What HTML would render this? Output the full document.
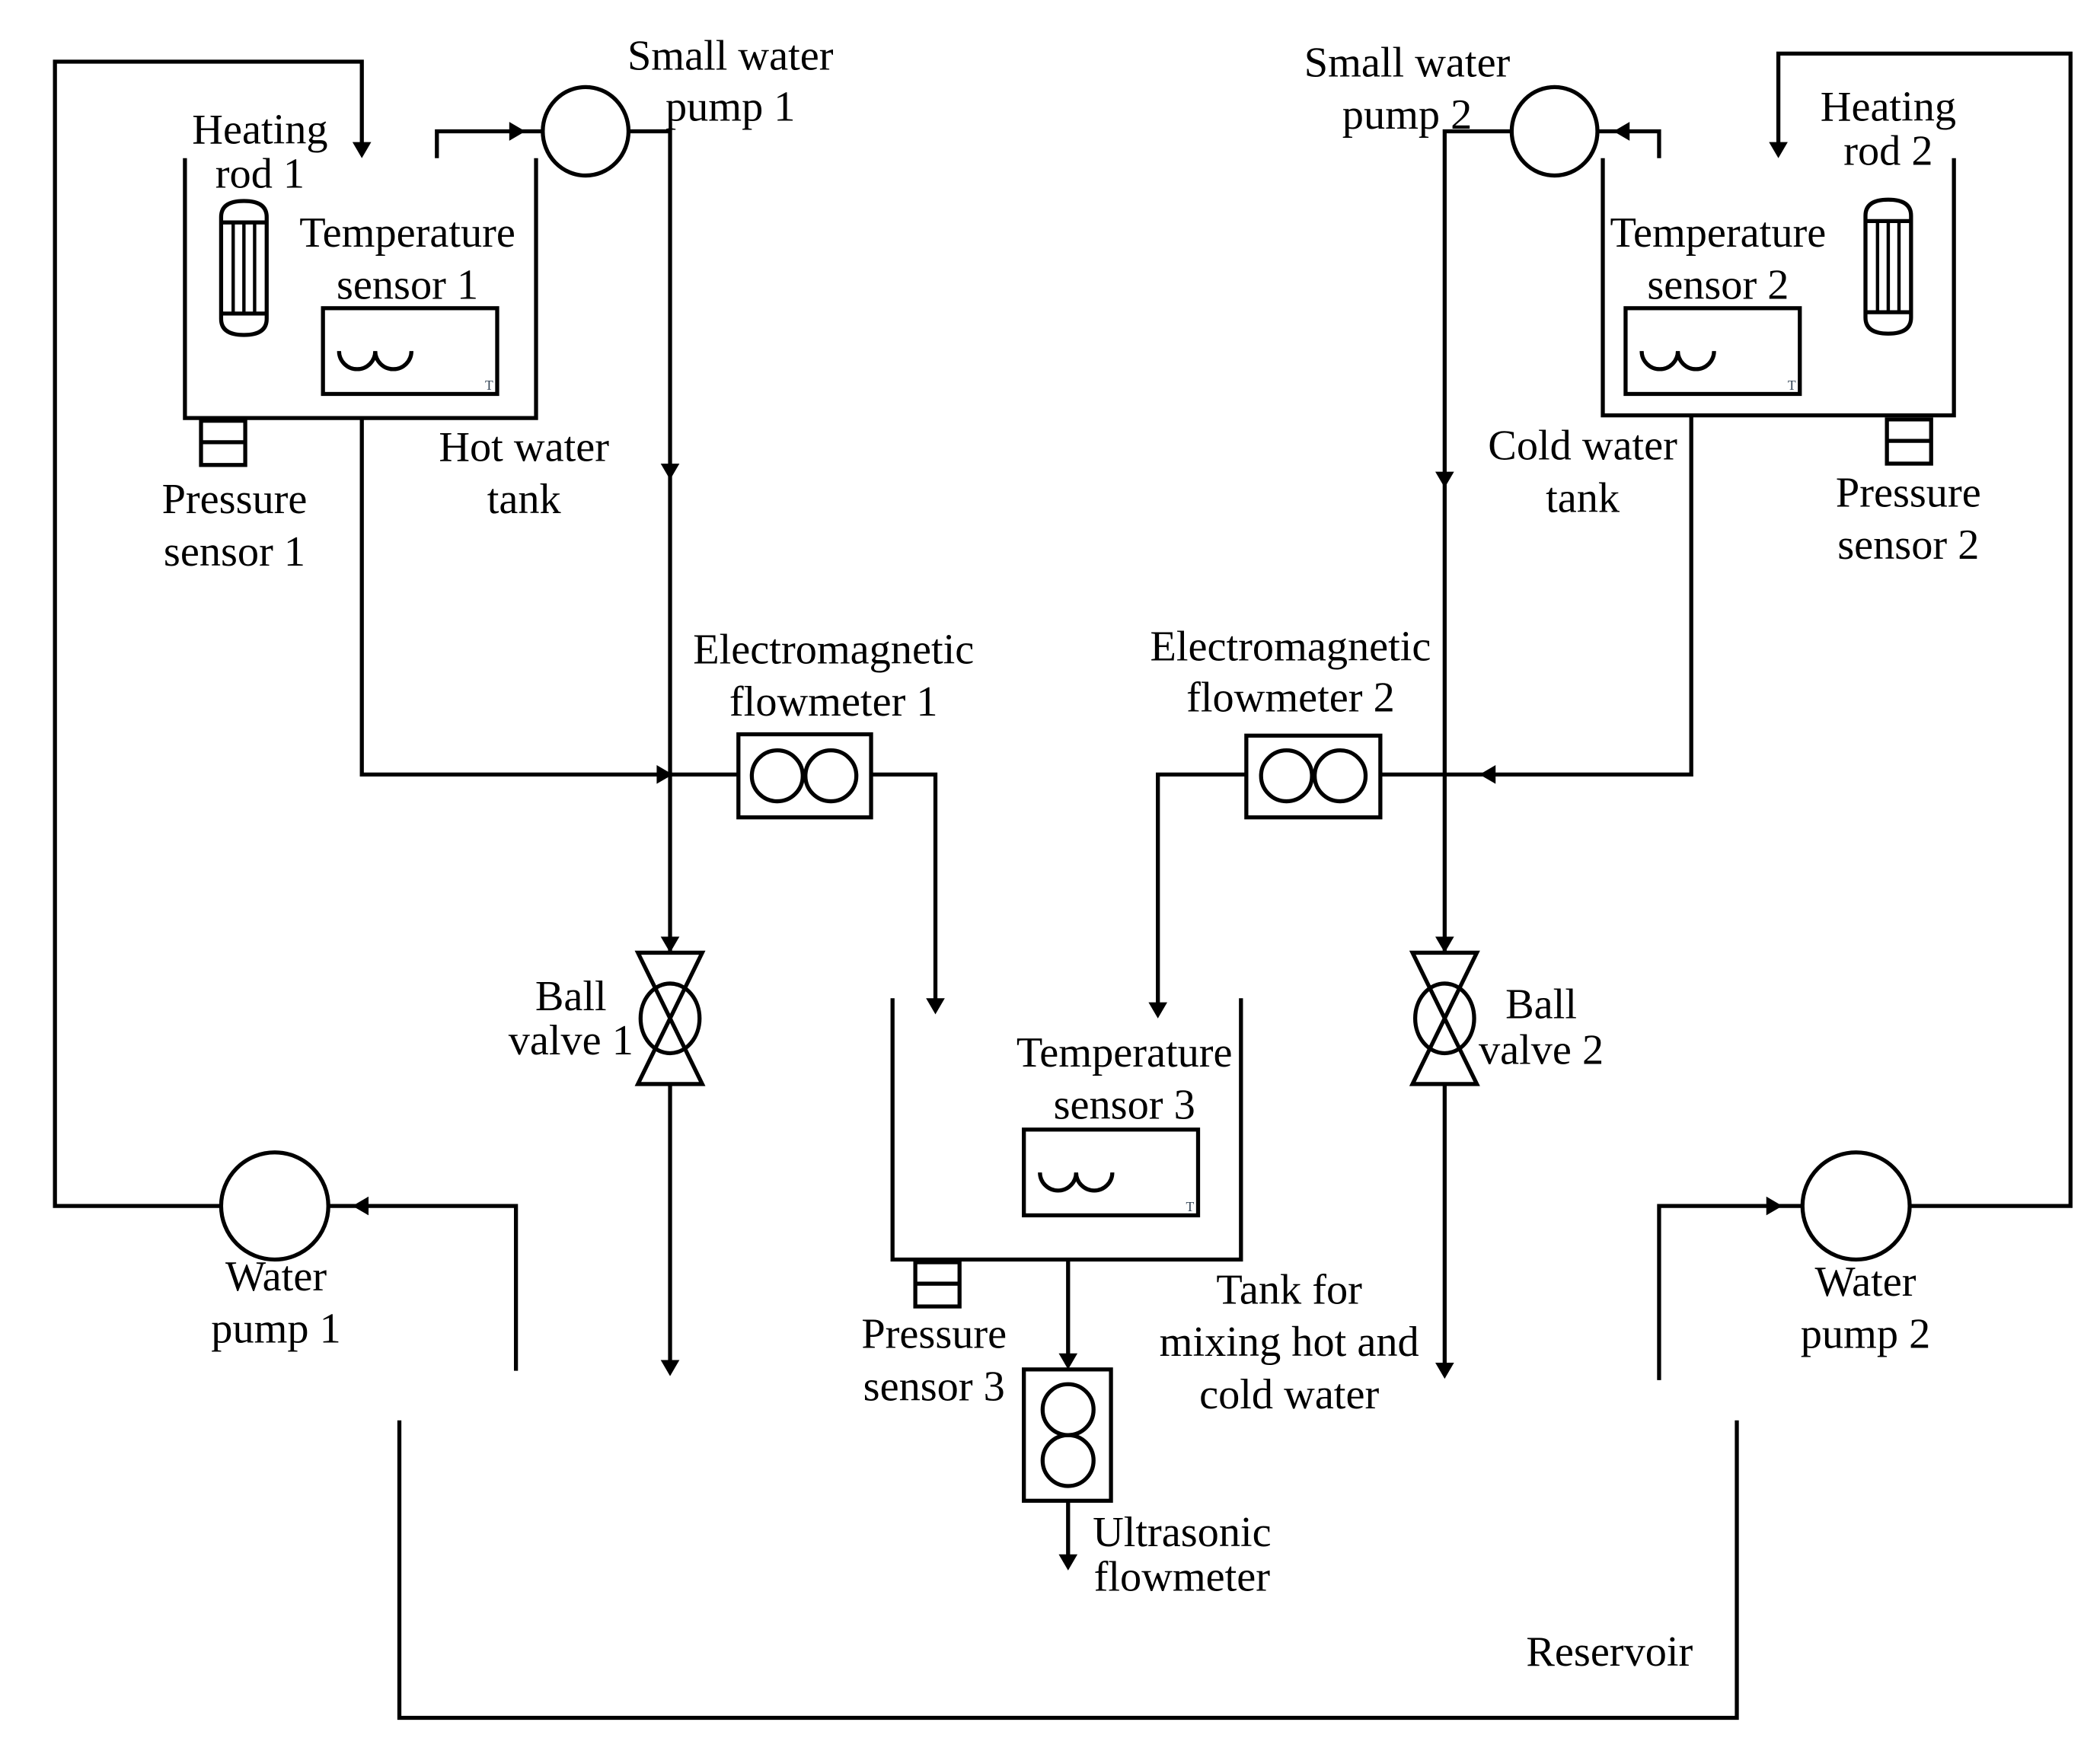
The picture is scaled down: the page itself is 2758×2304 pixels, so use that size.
<!DOCTYPE html>
<html><head><meta charset="utf-8"><style>
html,body{margin:0;padding:0;background:#fff;}
svg{display:block;}
text{font-family:"Liberation Serif",serif;font-size:32px;fill:#000;text-anchor:middle;}
</style></head><body>
<svg width="2758" height="2304" viewBox="0 0 1567 1309" preserveAspectRatio="none" xmlns="http://www.w3.org/2000/svg">
<defs>
<g id="rod"><path d="M0,12 Q0,0 17,0 Q34,0 34,12 L34,88 Q34,100 17,100 Q0,100 0,88 Z" fill="none" stroke="#000" stroke-width="3"/>
<line x1="0" y1="16" x2="34" y2="16" stroke="#000" stroke-width="3"/><line x1="0" y1="84" x2="34" y2="84" stroke="#000" stroke-width="3"/>
<line x1="9" y1="16" x2="9" y2="84" stroke="#000" stroke-width="2.5"/><line x1="17" y1="16" x2="17" y2="84" stroke="#000" stroke-width="2.5"/><line x1="25" y1="16" x2="25" y2="84" stroke="#000" stroke-width="2.5"/></g>
<g id="ts"><rect x="0" y="0" width="130" height="64" fill="none" stroke="#000" stroke-width="3"/>
<path d="M12,32 a13,13 0 0 0 27,0 a13,13 0 0 0 27,0" fill="none" stroke="#000" stroke-width="3"/>
<text x="124" y="61" style="font-size:10px;fill:#345">T</text></g>
<g id="ps"><rect x="0" y="0" width="33" height="33" fill="none" stroke="#000" stroke-width="3"/><line x1="0" y1="16" x2="33" y2="16" stroke="#000" stroke-width="3"/></g>
<g id="valve"><polygon points="-24,-49 24,-49 -24,49 24,49" fill="none" stroke="#000" stroke-width="3"/>
<ellipse cx="0" cy="0" rx="22" ry="26" fill="none" stroke="#000" stroke-width="3"/></g>
<polygon id="ad" points="-7,-12 7,-12 0,0"/>
<polygon id="ar" points="-12,-7 -12,7 0,0"/>
<polygon id="al" points="12,-7 12,7 0,0"/>
</defs>
<g fill="none" stroke="#000" stroke-width="3">
<polyline points="270,108 270,46 41,46 41,900 165,900"/>
<polyline points="245,900 385,900 385,1023"/>
<circle cx="205" cy="900" r="40"/>
<polyline points="138,118 138,312 400,312 400,118"/>
<polyline points="326,118 326,98 405,98"/>
<ellipse cx="437" cy="98" rx="32" ry="33"/>
<polyline points="469,98 500,98 500,711"/>
<line x1="500" y1="809" x2="500" y2="1018"/>
<polyline points="270,312 270,578 551,578"/>
<rect x="551" y="548" width="99" height="62"/>
<circle cx="580" cy="579" r="19"/><circle cx="620" cy="579" r="19"/>
<polyline points="650,578 698,578 698,750"/>
<polyline points="666,745 666,940 926,940 926,745"/>
<line x1="797" y1="940" x2="797" y2="1015"/>
<rect x="764" y="1022" width="65" height="98"/>
<circle cx="797" cy="1052" r="19"/><circle cx="797" cy="1090" r="19"/>
<line x1="797" y1="1120" x2="797" y2="1164"/>
<polyline points="298,1060 298,1282 1296,1282 1296,1060"/>
<polyline points="1196,118 1196,310 1458,310 1458,118"/>
<polyline points="1238,118 1238,98 1192,98"/>
<ellipse cx="1160" cy="98" rx="32" ry="33"/>
<polyline points="1128,98 1078,98 1078,711"/>
<line x1="1078" y1="809" x2="1078" y2="1020"/>
<polyline points="1262,310 1262,578 1030,578"/>
<rect x="930" y="549" width="100" height="61"/>
<circle cx="960" cy="579" r="19"/><circle cx="1000" cy="579" r="19"/>
<polyline points="930,578 864,578 864,752"/>
<polyline points="1327,110 1327,40 1545,40 1545,900 1425,900"/>
<circle cx="1385" cy="900" r="40"/>
<polyline points="1345,900 1238,900 1238,1030"/>
</g>
<use href="#rod" x="165" y="150"/>
<use href="#rod" x="1392" y="149"/>
<use href="#ts" x="241" y="230"/>
<use href="#ts" x="1213" y="230"/>
<use href="#ts" x="764" y="843"/>
<use href="#ps" x="150" y="314"/>
<use href="#ps" x="1408" y="313"/>
<use href="#ps" x="683" y="942"/>
<use href="#valve" x="500" y="760"/>
<use href="#valve" x="1078" y="760"/>
<use href="#ad" x="270" y="118"/>
<use href="#ar" x="392" y="98"/>
<use href="#ad" x="500" y="358"/>
<use href="#ar" x="502" y="578"/>
<use href="#ad" x="500" y="711"/>
<use href="#ad" x="500" y="1027"/>
<use href="#al" x="263" y="900"/>
<use href="#ad" x="698" y="757"/>
<use href="#ad" x="797" y="1022"/>
<use href="#ad" x="797" y="1172"/>
<use href="#ad" x="1327" y="118"/>
<use href="#al" x="1204" y="98"/>
<use href="#ad" x="1078" y="364"/>
<use href="#al" x="1104" y="578"/>
<use href="#ad" x="1078" y="711"/>
<use href="#ad" x="1078" y="1029"/>
<use href="#ad" x="864" y="760"/>
<use href="#ar" x="1330" y="900"/>
<text x="545" y="52">Small water</text><text x="545" y="90">pump 1</text>
<text x="194" y="107">Heating</text><text x="194" y="140">rod 1</text>
<text x="304" y="184">Temperature</text><text x="304" y="223">sensor 1</text>
<text x="391" y="344">Hot water</text><text x="391" y="383">tank</text>
<text x="175" y="383">Pressure</text><text x="175" y="422">sensor 1</text>
<text x="622" y="495">Electromagnetic</text><text x="622" y="534">flowmeter 1</text>
<text x="426" y="754">Ball</text><text x="426" y="787">valve 1</text>
<text x="839" y="796">Temperature</text><text x="839" y="835">sensor 3</text>
<text x="206" y="963">Water</text><text x="206" y="1002">pump 1</text>
<text x="697" y="1006">Pressure</text><text x="697" y="1045">sensor 3</text>
<text x="962" y="973">Tank for</text><text x="962" y="1012">mixing hot and</text><text x="962" y="1051">cold water</text>
<text x="882" y="1154">Ultrasonic</text><text x="882" y="1187">flowmeter</text>
<text x="1201" y="1243">Reservoir</text>
<text x="1050" y="57">Small water</text><text x="1050" y="96">pump 2</text>
<text x="1409" y="90">Heating</text><text x="1409" y="123">rod 2</text>
<text x="1282" y="184">Temperature</text><text x="1282" y="223">sensor 2</text>
<text x="1181" y="343">Cold water</text><text x="1181" y="382">tank</text>
<text x="1424" y="378">Pressure</text><text x="1424" y="417">sensor 2</text>
<text x="963" y="493">Electromagnetic</text><text x="963" y="531">flowmeter 2</text>
<text x="1150" y="760">Ball</text><text x="1150" y="794">valve 2</text>
<text x="1392" y="967">Water</text><text x="1392" y="1006">pump 2</text>
</svg>
</body></html>
